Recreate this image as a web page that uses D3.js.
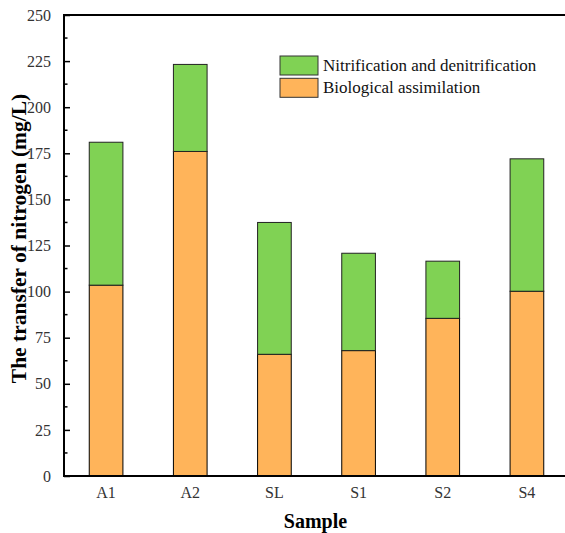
<!DOCTYPE html>
<html>
<head>
<meta charset="utf-8">
<script src="https://cdn.jsdelivr.net/npm/d3@7"></script>
<style>
  body { margin: 0; background: #fff; }
  svg text { font-family: "Liberation Serif", "Times New Roman", serif !important; }
</style>
</head>
<body>
<script>
const width = 565
const height = 533

// data
const samples = ['A1', 'A2', 'SL', 'S1', 'S2', 'S4']
const assimilation = [103.5, 176, 66, 68, 85.5, 100.2]
const nitrification = [77.5, 47.2, 71.5, 52.8, 31, 71.8]
const yTicks = [0, 25, 50, 75, 100, 125, 150, 175, 200, 225, 250]
const seriesNames = ['Nitrification and denitrification', 'Biological assimilation']
const seriesColors = ['#80d254', '#ffb45a']

const margin = {left: 64, top: 15, right: -4, bottom: 57}

const svg = d3.select('body').append('svg')
    .attr('width', width)
    .attr('height', height)

const x = d3.scaleBand()
    .domain(samples)
    .range([margin.left, width - margin.right])

const y = d3.scaleLinear()
    .domain([0, 250])
    .range([height - margin.bottom, margin.top])

const barW = x.bandwidth() * 0.4

// stacked bars
const rows = samples.map((s, i) => ({sample: s, a: assimilation[i], n: nitrification[i]}))

svg.selectAll('rect.assim')
    .data(rows)
    .enter().append('rect')
    .attr('class', 'assim')
    .attr('x', d => x(d.sample) + (x.bandwidth() - barW) / 2)
    .attr('width', barW)
    .attr('y', d => y(d.a))
    .attr('height', d => y(0) - y(d.a))
    .style('fill', seriesColors[1])
    .style('stroke', '#000')
    .style('stroke-width', 1)

svg.selectAll('rect.nitr')
    .data(rows)
    .enter().append('rect')
    .attr('class', 'nitr')
    .attr('x', d => x(d.sample) + (x.bandwidth() - barW) / 2)
    .attr('width', barW)
    .attr('y', d => y(d.a + d.n))
    .attr('height', d => y(d.a) - y(d.a + d.n))
    .style('fill', seriesColors[0])
    .style('stroke', '#222')
    .style('stroke-width', 1)

// y axis with inward ticks
const yAxis = d3.axisLeft(y)
    .tickValues(yTicks)
    .tickSize(-6)
    .tickPadding(13)
    .tickFormat(d3.format('d'))

const gy = svg.append('g')
    .attr('transform', `translate(${margin.left},0)`)
    .call(yAxis)
gy.select('.domain').remove()
gy.selectAll('.tick line').style('stroke', '#000').style('stroke-width', 1.5)
gy.selectAll('.tick text')
    .style('font-size', '16px')
    .style('fill', '#333')

// minor ticks
const minor = yTicks.slice(0, -1).map(t => t + 12.5)
svg.selectAll('line.minor')
    .data(minor)
    .enter().append('line')
    .attr('x1', margin.left)
    .attr('x2', margin.left + 3.5)
    .attr('y1', d => y(d))
    .attr('y2', d => y(d))
    .style('stroke', '#000')
    .style('stroke-width', 1.5)

// x axis, no ticks
const gx = svg.append('g')
    .attr('transform', `translate(0,${y(0)})`)
    .call(d3.axisBottom(x).tickSize(0).tickPadding(11))
gx.select('.domain').remove()
gx.selectAll('.tick text')
    .style('font-size', '16px')
    .style('fill', '#333')

// frame lines
svg.append('line')
    .attr('x1', margin.left).attr('x2', width)
    .attr('y1', y(0)).attr('y2', y(0))
    .style('stroke', '#000').style('stroke-width', 2)
svg.append('line')
    .attr('x1', margin.left).attr('x2', width)
    .attr('y1', y(250)).attr('y2', y(250))
    .style('stroke', '#000').style('stroke-width', 2)
svg.append('line')
    .attr('x1', margin.left).attr('x2', margin.left)
    .attr('y1', y(0) + 1).attr('y2', y(250) - 1)
    .style('stroke', '#000').style('stroke-width', 2)

// axis titles
svg.append('text')
    .attr('x', (margin.left + width) / 2 + 1)
    .attr('y', 528)
    .attr('text-anchor', 'middle')
    .style('font-size', '20px')
    .style('font-weight', 'bold')
    .text('Sample')

svg.append('text')
    .attr('transform', `translate(26,${(y(0) + y(250)) / 2 - 7}) rotate(-90)`)
    .attr('text-anchor', 'middle')
    .style('font-size', '21.5px')
    .style('font-weight', 'bold')
    .text('The transfer of nitrogen (mg/L)')

// legend
const legend = svg.append('g').attr('transform', 'translate(280,56)')
seriesNames.forEach((name, i) => {
    legend.append('rect')
        .attr('x', 0)
        .attr('y', i * 22.3)
        .attr('width', 38)
        .attr('height', 19)
        .style('fill', seriesColors[i])
        .style('stroke', '#333')
        .style('stroke-width', 1)
    legend.append('text')
        .attr('x', 43)
        .attr('y', i * 22.3 + 15)
        .style('font-size', '17px')
        .style('fill', '#111')
        .text(name)
})
</script>
</body>
</html>
